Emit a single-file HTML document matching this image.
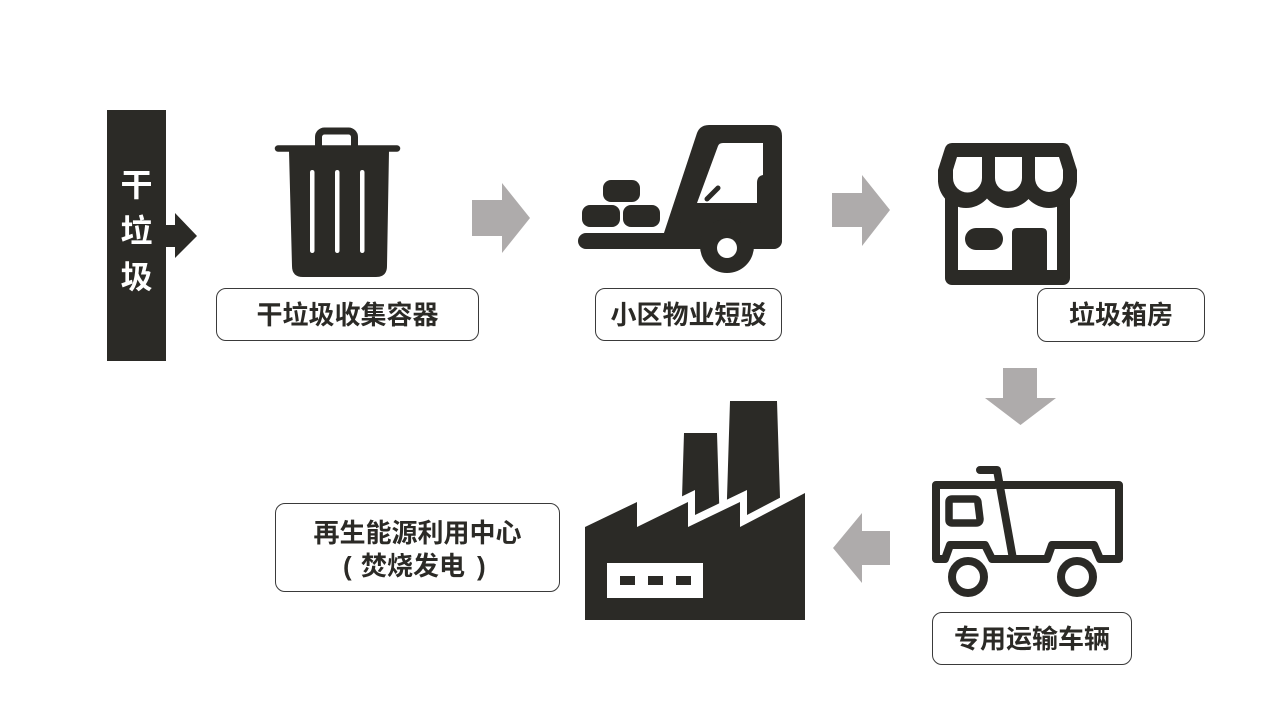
<!DOCTYPE html>
<html><head><meta charset="utf-8">
<style>
html,body{margin:0;padding:0;background:#fff;}
body{width:1274px;height:717px;position:relative;overflow:hidden;font-family:"Liberation Sans","Noto Sans CJK SC",sans-serif;}
svg{position:absolute;left:0;top:0;}
.lbl{position:absolute;box-sizing:border-box;border:1.5px solid #3a3a3a;border-radius:10px;background:#fff;display:flex;align-items:center;justify-content:center;text-align:center;color:#2b2a26;font-weight:bold;font-size:26px;line-height:32px;font-family:"Liberation Sans","Noto Sans CJK SC",sans-serif;}
.bar{position:absolute;left:107px;top:110px;width:59px;height:251px;background:#2b2a26;}
.bartxt{position:absolute;left:107px;top:162px;width:59px;color:#fff;font-weight:bold;font-size:32px;line-height:46px;text-align:center;font-family:"Liberation Sans","Noto Sans CJK SC",sans-serif;}
.t{position:absolute;color:#2b2a26;font-weight:bold;font-size:26px;line-height:32px;white-space:nowrap;font-family:"Liberation Sans","Noto Sans CJK SC",sans-serif;}
</style></head>
<body>
<div class="bar"></div>
<div class="bartxt">干<br>垃<br>圾</div>

<svg width="1274" height="717" viewBox="0 0 1274 717">
  <!-- bar arrow -->
  <polygon points="166,225 175,225 175,213 197,236 175,258 175,247 166,247" fill="#2b2a26"/>

  <!-- gray arrows -->
  <polygon points="472,200 502,200 502,183 530,218 502,253 502,236 472,236" fill="#aeabab"/>
  <polygon points="832,193 862,193 862,175 890,210 862,246 862,227 832,227" fill="#aeabab"/>
  <polygon points="1003,368 1037,368 1037,398 1056,398 1020.5,425 985,398 1003,398" fill="#aeabab"/>
  <polygon points="890,531 862,531 862,513 833,548 862,583 862,565 890,565" fill="#aeabab"/>

  <!-- trash can -->
  <rect x="318.5" y="131" width="36" height="22" rx="6" fill="none" stroke="#2b2a26" stroke-width="7"/>
  <line x1="278" y1="148.5" x2="397" y2="148.5" stroke="#2b2a26" stroke-width="6.5" stroke-linecap="round"/>
  <path d="M289 151 L389 151 L387 266 Q387 277 376 277 L303 277 Q292 277 292 266 Z" fill="#2b2a26"/>
  <rect x="310" y="170" width="4.5" height="83" rx="2.2" fill="#fff"/>
  <rect x="335" y="170" width="4.5" height="83" rx="2.2" fill="#fff"/>
  <rect x="360" y="170" width="4.5" height="83" rx="2.2" fill="#fff"/>

  <!-- forklift -->
  <rect x="578" y="233" width="204" height="16" rx="8" fill="#2b2a26"/>
  <path d="M660 245 L697 133 Q700 125 709 125 L771 125 Q782 125 782 136 L782 238 Q782 249 771 249 L660 249 Z" fill="#2b2a26"/>
  <path d="M718 146 Q719 143 723 143 L763 143 L763 175 Q757 176 757 183 L757 203 L697 203 Z" fill="#fff"/>
  <line x1="718" y1="188" x2="707" y2="199" stroke="#2b2a26" stroke-width="5" stroke-linecap="round"/>
  <circle cx="727" cy="246" r="27" fill="#2b2a26"/>
  <circle cx="727" cy="248" r="10" fill="#fff"/>
  <rect x="603" y="180" width="37" height="22" rx="8" fill="#2b2a26"/>
  <rect x="582" y="205" width="38" height="22" rx="8" fill="#2b2a26"/>
  <rect x="623" y="205" width="37" height="22" rx="8" fill="#2b2a26"/>

  <!-- store -->
  <defs>
    <clipPath id="awn"><rect x="938" y="140" width="140" height="72"/></clipPath>
  </defs>
  <rect x="945" y="172" width="125" height="113" rx="7" fill="#2b2a26"/>
  <rect x="958" y="190" width="99" height="80" fill="#fff"/>
  <path d="M952 143 L1063 143 Q1068 143 1070 148 L1077 170 L1077 182 L938 182 L938 170 L945 148 Q947 143 952 143 Z" fill="#2b2a26"/>
  <g clip-path="url(#awn)" fill="#2b2a26">
    <circle cx="966" cy="180" r="28"/>
    <circle cx="1008" cy="180" r="28"/>
    <circle cx="1049" cy="180" r="28"/>
  </g>
  <path d="M957 157 L982 157 L982 178 A14.5 14.5 0 0 1 953 178 L953 170 Z" fill="#fff"/>
  <path d="M995 157 L1022 157 L1022 178 A13.5 13.5 0 0 1 995 178 Z" fill="#fff"/>
  <path d="M1035 157 L1059 157 L1063 170 L1063 178 A14 14 0 0 1 1035 178 Z" fill="#fff"/>
  <rect x="965" y="228" width="38" height="22" rx="11" fill="#2b2a26"/>
  <path d="M1012 275 L1012 233 Q1012 228 1017 228 L1042 228 Q1047 228 1047 233 L1047 275 Z" fill="#2b2a26"/>

  <!-- dump truck -->
  <g fill="none" stroke="#2b2a26" stroke-width="8" stroke-linejoin="round" stroke-linecap="round">
    <path d="M995 485 L936 485 L936 559 L945 559 L950 545 L985 545 L992 559 L1012 559"/>
    <path d="M980 470 L997 470 L1013 559"/>
    <path d="M1003 485 L1119 485 L1119 559 L1100 559 L1094 545 L1052 545 L1047 559 L1013 559"/>
    <path d="M952 499 L974 499 Q978 499 978 503 L980 519 Q980 523 976 523 L952 523 Q949 523 949 520 L949 502 Q949 499 952 499 Z" stroke-width="7.5"/>
  </g>
  <circle cx="968" cy="577" r="16" fill="#fff" stroke="#2b2a26" stroke-width="8"/>
  <circle cx="1077" cy="577" r="16" fill="#fff" stroke="#2b2a26" stroke-width="8"/>

  <!-- factory -->
  <polygon points="684,433 717,433 720,530 681,530" fill="#2b2a26"/>
  <polygon points="730,401 777,401 781,530 726,530" fill="#2b2a26"/>
  <polygon points="592,608 592,515 644,490 644,515 695,490 695,515 747,490 747,515 812,481 812,608" fill="#fff"/>
  <polygon points="585,620 585,527 637,502 637,527 688,502 688,527 740,502 740,527 805,493 805,620" fill="#2b2a26"/>
  <rect x="607" y="563" width="96" height="35" fill="#fff"/>
  <rect x="620" y="576" width="15" height="9" fill="#2b2a26"/>
  <rect x="648" y="576" width="15" height="9" fill="#2b2a26"/>
  <rect x="676" y="576" width="15" height="9" fill="#2b2a26"/>
</svg>

<div class="lbl" style="left:216px;top:288px;width:263px;height:53px;">干垃圾收集容器</div>
<div class="lbl" style="left:595px;top:288px;width:187px;height:53px;">小区物业短驳</div>
<div class="lbl" style="left:1037px;top:288px;width:168px;height:54px;">垃圾箱房</div>
<div class="lbl" style="left:932px;top:612px;width:200px;height:53px;">专用运输车辆</div>
<div class="lbl" style="left:275px;top:503px;width:285px;height:89px;align-items:flex-start;padding-top:13px;">再生能源利用中心</div>
<div class="t" style="left:343px;top:550px;">(</div>
<div class="t" style="left:361px;top:550px;">焚烧发电</div>
<div class="t" style="left:477px;top:550px;">)</div>
</body></html>
